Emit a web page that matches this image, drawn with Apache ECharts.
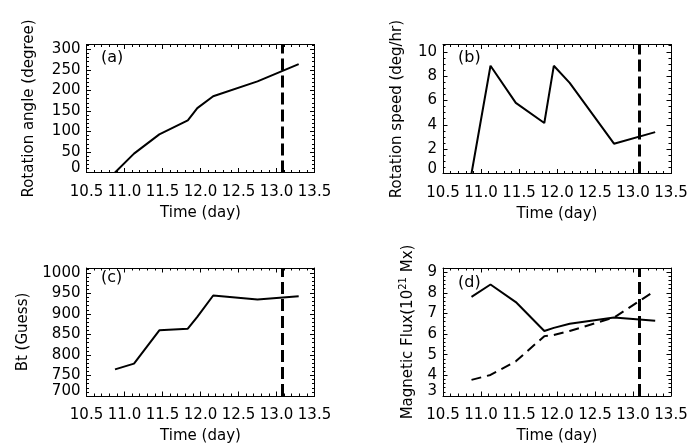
<!DOCTYPE html>
<html>
<head>
<meta charset="utf-8">
<script src="https://cdn.jsdelivr.net/npm/echarts@6/dist/echarts.min.js"></script>
<style>
  html, body { margin: 0; padding: 0; background: #fff; }
  #chart { width: 687px; height: 447px; }
</style>
</head>
<body>
<div id="chart"></div>
<script>
// time of each sample (day)
var days = [10.875, 11.125, 11.458, 11.833, 11.958, 12.167, 12.75, 13.292];
// (a) rotation angle, degree
var rotAngle = [0, 46, 93, 127, 157, 186, 222, 264];
// (b) rotation speed, deg/hr
var rotSpeed = [0, 8.85, 5.8, 4.15, 8.85, 7.45, 2.45, 3.4];
// (c) Bt, Gauss
var btField = [765, 779, 860, 864, 893, 945, 935, 943];
// (d) magnetic flux, 1e21 Mx
var fluxSolid = [7.8, 8.4, 7.55, 6.15, 6.3, 6.5, 6.8, 6.65];
var fluxDashed = [3.78, 4.02, 4.68, 5.9, 5.95, 6.15, 6.8, 8.1];
// the vertical dashed marker
var markDay = 13.08;

// tick labels
var angleTicks = [0, 50, 100, 150, 200, 250, 300];
var speedTicks = [0, 2, 4, 6, 8, 10];
var btTicks = [700, 750, 800, 850, 900, 950, 1000];
var fluxTicks = [3, 4, 5, 6, 7, 8, 9];

var FONT = 'DejaVu Sans';
var BLACK = '#000';

function minors(min, max, step, majors) {
    var out = [];
    for (var v = min; v <= max + 1e-9; v += step) {
        var r = Math.round(v * 1000) / 1000;
        if (majors.indexOf(r) < 0) out.push(r);
    }
    return out;
}

function pairs(ys) {
    return days.map(function (d, i) { return [d, ys[i]]; });
}

var panels = [
    {grid: {left: 86.5, top: 44.5, width: 228, height: 128}, min: 0, max: 312, ticks: angleTicks, step: 10,
     name: 'Rotation angle (degree)', gap: 50},
    {grid: {left: 443, top: 44.5, width: 228, height: 129}, min: 0, max: 10.6, ticks: speedTicks, step: 0.5,
     name: 'Rotation speed (deg/hr)', gap: 38},
    {grid: {left: 86.5, top: 268, width: 228, height: 128}, min: 700, max: 1012, ticks: btTicks, step: 10,
     name: 'Bt (Guess)', gap: 56},
    {grid: {left: 443, top: 268, width: 228, height: 128}, min: 3, max: 9.2, ticks: fluxTicks, step: 0.2,
     name: '{n|Magnetic Flux(10}{s|21}{n| Mx)}', gap: 25}
];

var grids = [], xAxes = [], yAxes = [];
panels.forEach(function (p, i) {
    grids.push(Object.assign({outerBoundsMode: 'none', containLabel: false}, p.grid));
    [ 'bottom', 'top' ].forEach(function (pos) {
        xAxes.push({
            gridIndex: i, type: 'value', min: 10.5, max: 13.5, interval: 0.5, position: pos,
            axisLine: {onZero: false, lineStyle: {color: BLACK, width: 1}},
            axisTick: {inside: true, length: 4.5, lineStyle: {color: BLACK}},
            minorTick: {show: true, splitNumber: 5, length: 2.5, lineStyle: {color: BLACK}},
            splitLine: {show: false},
            axisLabel: {
                show: pos === 'bottom', color: BLACK, fontSize: 15, fontFamily: FONT, margin: 12,
                formatter: function (v) { return v.toFixed(1); }
            },
            name: pos === 'bottom' ? 'Time (day)' : '',
            nameLocation: 'middle', nameGap: 33,
            nameTextStyle: {color: BLACK, fontSize: 15, fontFamily: FONT}
        });
    });
    var minorVals = minors(p.min, p.max, p.step, p.ticks);
    ['left', 'right'].forEach(function (pos) {
        yAxes.push({
            gridIndex: i, type: 'value', min: p.min, max: p.max, position: pos,
            axisLine: {onZero: false, lineStyle: {color: BLACK, width: 1}},
            axisTick: {inside: true, length: 4.5, customValues: p.ticks, lineStyle: {color: BLACK}},
            splitLine: {show: false},
            axisLabel: {
                show: pos === 'left', customValues: p.ticks, color: BLACK, fontSize: 15, fontFamily: FONT, margin: 6,
                formatter: function (v) { return v === p.min ? '{lo|' + v + '}' : String(v); },
                rich: {lo: {fontSize: 15, fontFamily: FONT, color: BLACK, padding: [0, 0, 9, 0]}}
            },
            name: pos === 'left' ? p.name : '',
            nameLocation: 'middle', nameGap: p.gap, nameRotate: 90,
            nameTextStyle: {
                color: BLACK, fontSize: 15, fontFamily: FONT,
                rich: {
                    n: {fontSize: 15, fontFamily: FONT, color: BLACK},
                    s: {fontSize: 10, fontFamily: FONT, color: BLACK, padding: [0, 0, 10, 0]}
                }
            }
        });
        yAxes.push({
            gridIndex: i, type: 'value', min: p.min, max: p.max, position: pos,
            axisLine: {show: false},
            axisTick: {inside: true, length: 2.5, customValues: minorVals, lineStyle: {color: BLACK}},
            axisLabel: {show: false},
            splitLine: {show: false}
        });
    });
});

var markLine = {
    silent: true, symbol: ['none', 'none'], label: {show: false},
    lineStyle: {color: BLACK, type: [12, 5], width: 3},
    data: [{xAxis: markDay}]
};

function line(idx, ys, dashed, withMark) {
    var s = {
        type: 'line', xAxisIndex: idx * 2, yAxisIndex: idx * 4, data: pairs(ys),
        symbol: 'none', silent: true,
        lineStyle: {color: BLACK, width: 2, type: dashed ? [10, 6] : 'solid'}
    };
    if (withMark) s.markLine = markLine;
    return s;
}

var chart = echarts.init(document.getElementById('chart'));
chart.setOption({
    animation: false,
    backgroundColor: '#fff',
    grid: grids,
    xAxis: xAxes,
    yAxis: yAxes,
    graphic: [
        {type: 'text', left: 101, top: 50, style: {text: '(a)', font: '16px "DejaVu Sans"', fill: BLACK}},
        {type: 'text', left: 458, top: 50, style: {text: '(b)', font: '16px "DejaVu Sans"', fill: BLACK}},
        {type: 'text', left: 101, top: 270, style: {text: '(c)', font: '16px "DejaVu Sans"', fill: BLACK}},
        {type: 'text', left: 458, top: 275, style: {text: '(d)', font: '16px "DejaVu Sans"', fill: BLACK}}
    ],
    series: [
        line(0, rotAngle, false, true),
        line(1, rotSpeed, false, true),
        line(2, btField, false, true),
        line(3, fluxSolid, false, true),
        line(3, fluxDashed, true, false)
    ]
});
</script>
</body>
</html>
